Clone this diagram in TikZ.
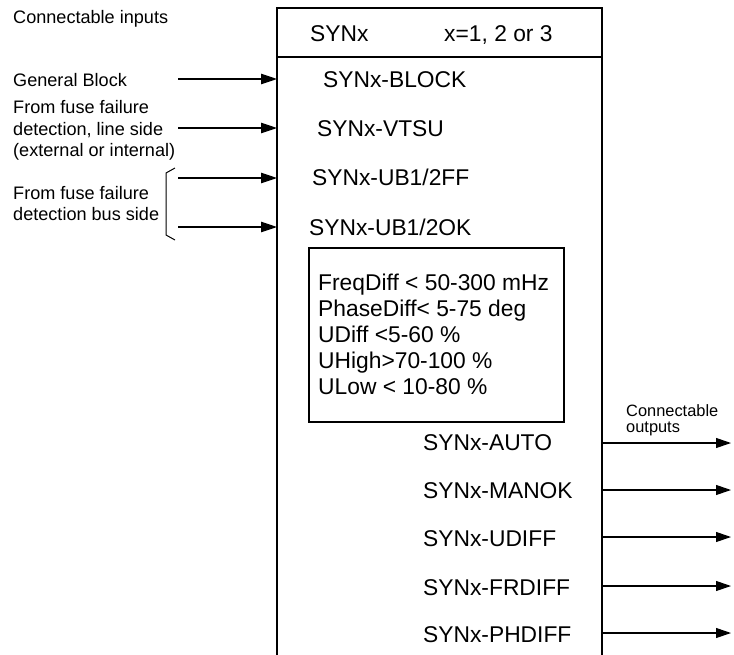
\documentclass[tikz,border=0pt]{standalone}
\usepackage{fontspec}
\setmainfont{Liberation Sans}
\usetikzlibrary{arrows.meta}
\begin{document}
\begin{tikzpicture}[x=1pt,y=-1pt,
  big/.style={font=\fontsize{22.8}{26}\selectfont, inner sep=0pt, anchor=base west},
  small/.style={font=\fontsize{18.1}{21}\selectfont, inner sep=0pt, anchor=base west},
  tiny/.style={font=\fontsize{16.4}{18}\selectfont, inner sep=0pt, anchor=base west},
  inarrow/.style={line width=1.1pt, -{Triangle[length=16pt,width=10.5pt]}},
  outarrow/.style={line width=1.1pt, -{Triangle[length=15pt,width=10pt]}},
  boxline/.style={line width=1.3pt}]
\useasboundingbox (0,0) rectangle (734,654);
% main block (open at the bottom)
\draw[boxline] (277,660) -- (277,8) -- (602,8) -- (602,660);
\draw[boxline] (277,57) -- (602,57);
\node[big] (hdr) at (310,41) {SYNx};
\node[big] (hdrx) at (444,41) {x=1, 2 or 3};
% inputs
\node[small] (cin) at (13,23) {Connectable inputs};
\node[small] (gb) at (13,86) {General Block};
\node[small] (ff1) at (13,113) {From fuse failure};
\node[small] (ff2) at (13,135) {detection, line side};
\node[small] (ff3) at (13,156.5) {(external or internal)};
\node[small] (bs1) at (13,199.5) {From fuse failure};
\node[small] (bs2) at (13,220.5) {detection bus side};
\draw[line width=1pt] (175,168) -- (166,173) -- (166,235) -- (175,240);
\node[big] (iblock) at (323,87.5) {SYNx-BLOCK};
\node[big] (ivtsu) at (317,136.5) {SYNx-VTSU};
\node[big] (iff) at (312,185.5) {SYNx-UB1/2FF};
\node[big] (iok) at (309,235) {SYNx-UB1/2OK};
\foreach \n/\y in {a/79,b/128,c/178,d/227}{
  \coordinate (s\n) at (178,\y);
  \coordinate (e\n) at (277,\y);
  \draw[inarrow] (s\n) -- (e\n);
}
% settings box
\draw[line width=1.2pt] (309,248) rectangle (564,422);
\node[big] (l1) at (318,290.5) {FreqDiff < 50-300 mHz};
\node[big] (l2) at (318,316.5) {PhaseDiff< 5-75 deg};
\node[big] (l3) at (318,342.5) {UDiff <5-60 \%};
\node[big] (l4) at (318,368.5) {UHigh>70-100 \%};
\node[big] (l5) at (318,394.5) {ULow < 10-80 \%};
% outputs
\node[tiny] (cout1) at (626,416.5) {Connectable};
\node[tiny] (cout2) at (626,432) {outputs};
\node[big] (oauto) at (423,450) {SYNx-AUTO};
\node[big] (omanok) at (423,498) {SYNx-MANOK};
\node[big] (oudiff) at (423,546.5) {SYNx-UDIFF};
\node[big] (ofrdiff) at (423,595) {SYNx-FRDIFF};
\node[big] (ophdiff) at (423,642) {SYNx-PHDIFF};
\foreach \n/\y in {a/443,b/490,c/537,d/586,e/633}{
  \coordinate (os\n) at (602,\y);
  \coordinate (oe\n) at (731,\y);
  \draw[outarrow] (os\n) -- (oe\n);
}
\end{tikzpicture}
\end{document}
